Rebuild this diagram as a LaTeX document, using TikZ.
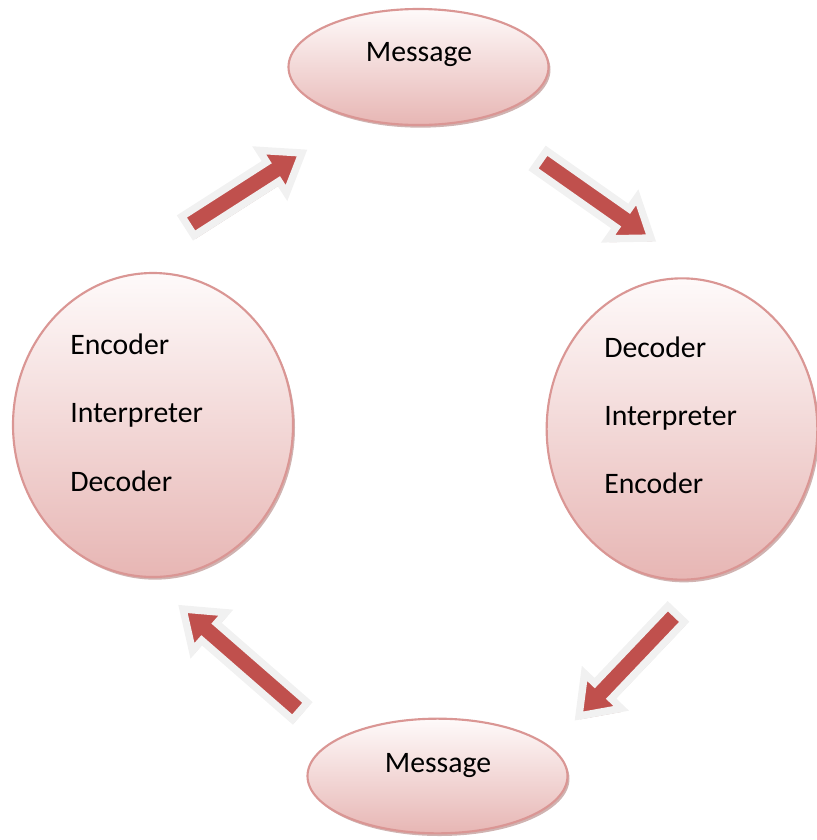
\documentclass[tikz,border=0pt]{standalone}
\usepackage{fontspec}
\setmainfont{Carlito}
\usetikzlibrary{shapes.geometric,shadows,calc}

\definecolor{bubbleedge}{RGB}{218,150,148}
\definecolor{bubblebot}{RGB}{231,182,180}
\definecolor{bubbletop}{RGB}{254,250,250}
\definecolor{bubbleshade}{RGB}{196,160,158}
\definecolor{arrowred}{RGB}{192,80,77}
\definecolor{arrowrim}{RGB}{241,241,241}

\tikzset{
  bubble/.style={ellipse, draw=bubbleedge, line width=1.6pt, top color=bubbletop, bottom color=bubblebot,
    drop shadow={shadow xshift=1.5pt, shadow yshift=-2pt, fill=bubbleshade, opacity=0.8}},
  arrowbody/.style={fill=arrowred, draw=arrowrim, line width=5.5pt, line join=miter,
    drop shadow={shadow xshift=1pt, shadow yshift=-2.5pt, fill=bubbleshade, opacity=0.9}},
  word/.style={inner sep=0pt, font=\fontsize{22.3}{27}\selectfont}
}

% block arrow from tail #1 to tip #2
\newcommand{\blockarrow}[2]{%
  \coordinate (hb) at ($(#2)!26pt!(#1)$);
  \path[arrowbody] ($(#1)!8.5pt!90:(#2)$) -- ($(hb)!8.5pt!90:(#2)$) -- ($(hb)!19pt!90:(#2)$) -- (#2)
    -- ($(hb)!19pt!-90:(#2)$) -- ($(hb)!8.5pt!-90:(#2)$) -- ($(#1)!8.5pt!-90:(#2)$) -- cycle;
}

\begin{document}
\begin{tikzpicture}[x=0.75pt,y=0.75pt,yscale=-1,xscale=1]
\useasboundingbox (0,0) rectangle (817,840);

%Shape: Ellipse [top message]
\node[bubble, minimum width=195pt, minimum height=87pt] (msgtop) at (418.5,67) {};
%Shape: Ellipse [bottom message]
\node[bubble, minimum width=195pt, minimum height=86pt] (msgbot) at (437.5,776) {};
%Shape: Ellipse [sender]
\node[bubble, minimum width=210pt, minimum height=228pt] (sender) at (153,425) {};
%Shape: Ellipse [receiver]
\node[bubble, minimum width=203pt, minimum height=226pt] (receiver) at (682,429) {};

%Arrows
\coordinate (tailA) at (188,226);  \coordinate (tipA) at (302,153);
\coordinate (tailB) at (540,160);  \coordinate (tipB) at (651,238);
\coordinate (tailC) at (676,614);  \coordinate (tipC) at (579,716);
\coordinate (tailD) at (300,711);  \coordinate (tipD) at (183,609);
\foreach \t/\h in {tailA/tipA,tailB/tipB,tailC/tipC,tailD/tipD}
  {\blockarrow{\t}{\h}}

% Text Node
\node[word, anchor=base] (txtmsgtop) at (419,61.5) {Message};
% Text Node
\node[word, anchor=base] (txtmsgbot) at (438,772.5) {Message};
% Text Node
\node[word, anchor=base west] (senc) at (70,354) {Encoder};
\node[word, anchor=base west] (sint) at (70,422) {Interpreter};
\node[word, anchor=base west] (sdec) at (70,491) {Decoder};
% Text Node
\node[word, anchor=base west] (rdec) at (604,357) {Decoder};
\node[word, anchor=base west] (rint) at (604,425) {Interpreter};
\node[word, anchor=base west] (renc) at (604,493) {Encoder};
\end{tikzpicture}
\end{document}
